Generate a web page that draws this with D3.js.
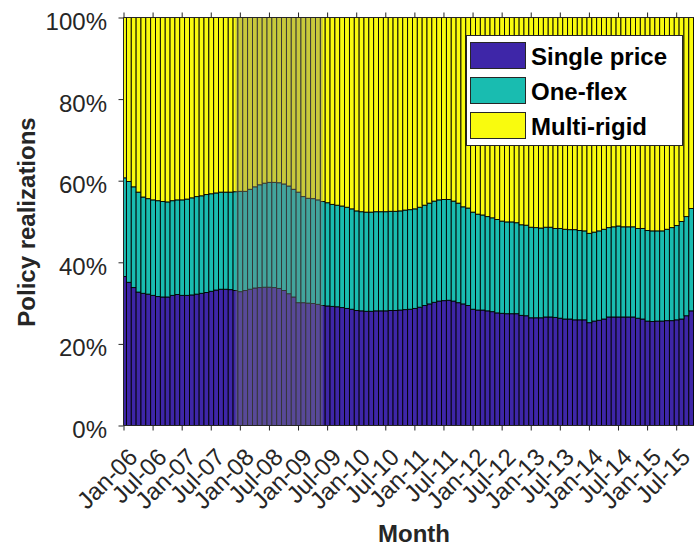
<!DOCTYPE html>
<html>
<head>
<meta charset="utf-8">
<script src="https://cdn.jsdelivr.net/npm/d3@7"></script>
<style>
  body { margin: 0; background: #fff; }
  text { font-family: "Liberation Sans", Arial, Helvetica, sans-serif; }
</style>
</head>
<body>
<div id="graph"></div>
<script>

// shares in percent, one value per month Jan-06 .. Dec-15
var singlePrice = [
  36.5,35.1,33.8,32.7,32.4,32.2,31.9,31.6,31.5,31.5,31.9,32.1,
  31.9,31.9,32.0,32.2,32.4,32.6,32.9,33.2,33.4,33.4,33.3,33.1,
  32.8,33.1,33.4,33.7,33.8,33.9,33.9,33.8,33.6,33.1,32.3,31.5,
  30.1,30.1,30.0,29.9,29.7,29.4,29.3,29.2,29.1,28.9,28.7,28.5,
  28.2,28.1,28.0,28.0,28.1,28.1,28.1,28.2,28.2,28.3,28.4,28.5,
  28.7,29.0,29.4,29.8,30.2,30.5,30.6,30.7,30.5,30.1,29.8,29.4,
  28.5,28.3,28.3,28.1,27.9,27.6,27.5,27.4,27.4,27.4,27.0,26.9,
  26.4,26.4,26.4,26.6,26.6,26.5,26.3,26.1,26.1,25.9,25.9,25.9,
  25.2,25.6,25.8,26.1,26.6,26.6,26.6,26.6,26.6,26.6,26.3,26.1,
  25.6,25.5,25.6,25.6,25.7,25.7,25.9,26.1,26.9,28.1,29.0,29.5
];
var oneFlex = [
  24.2,24.7,24.7,24.5,23.6,23.4,23.4,23.5,23.4,23.3,23.2,23.2,
  23.4,23.6,23.8,23.9,23.9,24.0,23.9,23.8,23.8,23.8,23.9,24.2,
  24.6,24.3,24.5,24.8,25.2,25.5,25.7,25.8,25.9,26.1,26.4,26.4,
  27.1,26.0,25.7,25.7,25.6,25.5,25.3,25.0,24.9,24.9,24.8,24.6,
  24.4,24.3,24.3,24.3,24.3,24.3,24.3,24.3,24.3,24.3,24.4,24.4,
  24.4,24.5,24.6,24.7,24.8,24.8,24.8,24.7,24.5,24.4,23.8,23.9,
  23.8,23.5,23.3,23.1,23.0,22.9,22.6,22.5,22.5,22.3,22.2,22.2,
  22.2,22.1,22.0,22.0,22.0,21.8,22.0,22.0,21.9,22.1,21.9,21.8,
  21.9,21.8,21.9,22.0,21.9,22.1,22.3,22.1,22.1,22.1,22.0,22.2,
  22.2,22.2,22.1,22.1,22.4,22.8,23.1,23.9,24.3,25.1,26.0,26.5
];
var multiRigid = [
  39.3,40.2,41.5,42.8,44.0,44.4,44.7,44.9,45.1,45.2,44.9,44.7,
  44.7,44.5,44.2,43.9,43.7,43.4,43.2,43.0,42.8,42.8,42.8,42.7,
  42.6,42.6,42.1,41.5,41.0,40.6,40.4,40.4,40.5,40.8,41.3,42.1,
  42.8,43.9,44.3,44.4,44.7,45.1,45.4,45.8,46.0,46.2,46.5,46.9,
  47.4,47.6,47.7,47.7,47.6,47.6,47.6,47.5,47.5,47.4,47.2,47.1,
  46.9,46.5,46.0,45.5,45.0,44.7,44.6,44.6,45.0,45.5,46.4,46.7,
  47.7,48.2,48.4,48.8,49.1,49.5,49.9,50.1,50.1,50.3,50.8,50.9,
  51.4,51.5,51.6,51.4,51.4,51.7,51.7,51.9,52.0,52.0,52.2,52.3,
  52.9,52.6,52.3,51.9,51.5,51.3,51.1,51.3,51.3,51.3,51.7,51.7,
  52.2,52.3,52.3,52.3,51.9,51.5,51.0,50.0,48.8,46.8,45.0,44.0
];

var seriesNames = ["Single price", "One-flex", "Multi-rigid"];
var seriesColors = ["#3e26a8", "#19bcb0", "#f9fb0e"];

var tickLabels = ["Jan-06","Jul-06","Jan-07","Jul-07","Jan-08","Jul-08","Jan-09","Jul-09",
                  "Jan-10","Jul-10","Jan-11","Jul-11","Jan-12","Jul-12","Jan-13","Jul-13",
                  "Jan-14","Jul-14","Jan-15","Jul-15"];
var yTicks = [0, 20, 40, 60, 80, 100];
var recession = ["Dec-07", "Jun-09"];

var W = 694, H = 548;
var margin = {top: 17.5, left: 123.5, bottom: 425.5};
var step = 4.848, firstCenter = 124;

var fmt = d3.timeFormat("%b-%y");
var months = d3.timeMonth.range(new Date(2006, 0, 1), new Date(2016, 0, 1)).map(fmt);

var rows = months.map(function(m, i) {
  return {month: m, "Single price": singlePrice[i], "One-flex": oneFlex[i], "Multi-rigid": multiRigid[i]};
});

var svg = d3.select("#graph").append("svg")
    .attr("width", W).attr("height", H);

var x = d3.scaleBand().domain(months)
    .range([firstCenter - step/2, firstCenter - step/2 + months.length*step])
    .padding(0);
var y = d3.scaleLinear().domain([0, 100]).range([margin.bottom, margin.top]);

svg.append("clipPath").attr("id", "clip")
  .append("rect")
    .attr("x", margin.left).attr("y", margin.top)
    .attr("width", W - margin.left + 10).attr("height", margin.bottom - margin.top);

var stacked = d3.stack().keys(seriesNames)(rows);

var plot = svg.append("g").attr("clip-path", "url(#clip)");

plot.selectAll(".series")
    .data(stacked)
    .enter().append("g")
    .attr("class", "series")
    .attr("fill", function(d, i) { return seriesColors[i]; })
  .selectAll("rect")
    .data(function(d) { return d; })
    .enter().append("rect")
    .attr("x", function(d) { return x(d.data.month); })
    .attr("y", function(d) { return y(d[1]); })
    .attr("width", x.bandwidth())
    .attr("height", function(d) { return y(d[0]) - y(d[1]); })
    .attr("stroke", "#000")
    .attr("stroke-width", 0.9);

// recession shading
var bw = x.bandwidth() / 2;
plot.append("rect")
    .attr("x", x(recession[0]) + bw)
    .attr("y", margin.top)
    .attr("width", x(recession[1]) - x(recession[0]))
    .attr("height", margin.bottom - margin.top)
    .attr("fill", "#808080")
    .attr("opacity", 0.4);

// axes
var yAxis = svg.append("g")
    .attr("transform", "translate(" + margin.left + ",0)")
    .call(d3.axisLeft(y).tickValues(yTicks).tickFormat(function(d) { return d + "%"; })
          .tickSize(5).tickPadding(11.5));

var xAxis = svg.append("g")
    .attr("transform", "translate(0," + margin.bottom + ")")
    .call(d3.axisBottom(x).tickValues(tickLabels).tickSize(5));

var xTop = svg.append("g")
    .attr("transform", "translate(0," + margin.top + ")")
    .call(d3.axisTop(x).tickValues(tickLabels).tickSize(5).tickFormat(""));

svg.selectAll(".domain").remove();
svg.selectAll(".tick line").attr("stroke", "#262626");

yAxis.selectAll("text")
    .attr("font-size", 24).attr("fill", "#262626").attr("dy", "0.5em");

xAxis.selectAll("text")
    .attr("font-size", 24).attr("fill", "#262626")
    .attr("text-anchor", "end")
    .attr("x", 0).attr("y", 0).attr("dy", 0)
    .attr("transform", "translate(15,33) rotate(-45)");

// box lines
var box = svg.append("g").attr("stroke", "#262626").attr("stroke-width", 1);
box.append("line").attr("x1", margin.left).attr("x2", margin.left)
    .attr("y1", margin.top).attr("y2", margin.bottom);
box.append("line").attr("x1", margin.left).attr("x2", W)
    .attr("y1", margin.bottom).attr("y2", margin.bottom);
box.append("line").attr("x1", margin.left).attr("x2", W)
    .attr("y1", margin.top).attr("y2", margin.top);

// labels
svg.append("text")
    .attr("x", 414).attr("y", 542)
    .attr("text-anchor", "middle")
    .attr("font-size", 24).attr("font-weight", "bold").attr("fill", "#262626")
    .text("Month");

svg.append("text")
    .attr("transform", "translate(35,222) rotate(-90)")
    .attr("text-anchor", "middle")
    .attr("font-size", 24).attr("font-weight", "bold").attr("fill", "#262626")
    .text("Policy realizations");

// legend
var legend = svg.append("g");
legend.append("rect")
    .attr("x", 466.5).attr("y", 35.5).attr("width", 216).attr("height", 110)
    .attr("fill", "#fff").attr("stroke", "#262626");

var items = legend.selectAll(".item")
    .data(seriesNames)
    .enter().append("g")
    .attr("class", "item")
    .attr("transform", function(d, i) { return "translate(0," + (i * 35) + ")"; });
items.append("rect")
    .attr("x", 470.5).attr("y", 42.5).attr("width", 55).attr("height", 26)
    .attr("fill", function(d, i) { return seriesColors[i]; })
    .attr("stroke", "#262626");
items.append("text")
    .attr("x", 531).attr("y", 64.5)
    .attr("font-size", 24).attr("font-weight", "bold").attr("fill", "#000")
    .text(function(d) { return d; });

</script>
</body>
</html>
